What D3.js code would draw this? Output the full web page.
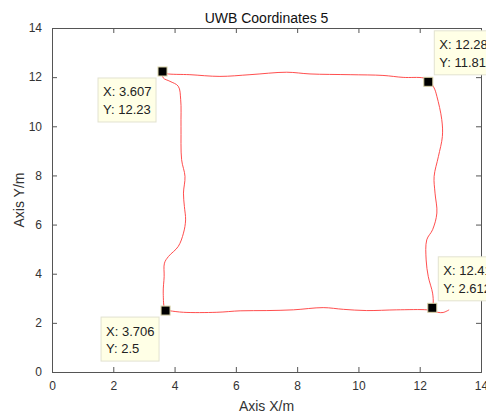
<!DOCTYPE html>
<html>
<head>
<meta charset="utf-8">
<script src="https://cdn.jsdelivr.net/npm/d3@7.9.0/dist/d3.min.js"></script>
<style>
  html, body { margin: 0; padding: 0; background: #fff; overflow: hidden; }
  svg { display: block; font-family: "Liberation Sans", Arial, Helvetica, sans-serif; }
</style>
</head>
<body>
<div id="chart"></div>
<script>
// walked trajectory (starts at the small hook bottom right)
const trackX = [12.96, 12.76, 12.58, 12.40, 12.23, 11.25, 10.27, 9.51, 8.85, 7.88, 7.01, 6.14, 5.38, 4.29, 3.85, 3.70,
  3.63, 3.66, 3.67, 3.80, 4.12, 4.29, 4.36, 4.32, 4.29, 4.34, 4.23, 4.21, 4.20, 4.12, 3.85, 3.63, 3.61,
  3.74, 4.50, 5.48, 6.46, 7.66, 8.42, 9.73, 10.80, 11.46, 12.11, 12.28,
  12.47, 12.56, 12.72, 12.74, 12.61, 12.47, 12.50, 12.56, 12.42, 12.23, 12.21, 12.28, 12.42, 12.44, 12.41];
const trackY = [2.53, 2.42, 2.43, 2.49, 2.53, 2.53, 2.50, 2.55, 2.62, 2.53, 2.50, 2.49, 2.43, 2.43, 2.49, 2.52,
  3.21, 3.88, 4.43, 4.70, 5.11, 5.65, 6.19, 6.74, 7.28, 7.96, 8.64, 10.00, 11.08, 11.63, 11.83, 11.97, 12.20,
  12.14, 12.10, 12.03, 12.10, 12.20, 12.13, 12.10, 12.07, 11.99, 11.97, 11.88,
  11.56, 11.22, 10.27, 9.59, 8.77, 7.96, 7.28, 6.47, 5.79, 5.38, 4.56, 3.88, 3.21, 2.80, 2.61];

// data tips
const tipX = [3.607, 12.28, 12.41, 3.706];
const tipY = [12.23, 11.81, 2.612, 2.5];
const tipSide = ['left', 'right', 'right', 'left'];

const xTicks = [0, 2, 4, 6, 8, 10, 12, 14];
const yTicks = [0, 2, 4, 6, 8, 10, 12, 14];

const width = 486, height = 414;
const margin = { top: 28, right: 5, bottom: 42, left: 52 };

const svg = d3.select('#chart').append('svg')
  .attr('width', width)
  .attr('height', height);

const x = d3.scaleLinear().domain([0, 14]).range([margin.left, width - margin.right]);
const y = d3.scaleLinear().domain([0, 14]).range([height - margin.bottom, margin.top]);

const axisColor = '#555';
const textColor = '#333';

// axes (ticks inside, box on)
const gx = svg.append('g')
  .attr('transform', `translate(0,${y(0)})`)
  .call(d3.axisBottom(x).tickValues(xTicks).tickSize(-5).tickPadding(9).tickFormat(d3.format('d')));
const gxTop = svg.append('g')
  .attr('transform', `translate(0,${y(14)})`)
  .call(d3.axisTop(x).tickValues(xTicks).tickSize(-5).tickFormat(''));
const gy = svg.append('g')
  .attr('transform', `translate(${x(0)},0)`)
  .call(d3.axisLeft(y).tickValues(yTicks).tickSize(-5).tickPadding(10).tickFormat(d3.format('d')));
const gyRight = svg.append('g')
  .attr('transform', `translate(${x(14)},0)`)
  .call(d3.axisRight(y).tickValues(yTicks).tickSize(-5).tickFormat(''));

[gx, gxTop, gy, gyRight].forEach(g => {
  g.select('.domain').attr('stroke', axisColor).attr('stroke-width', 1);
  g.selectAll('.tick line').attr('stroke', axisColor);
  g.selectAll('.tick text').attr('fill', textColor).style('font-size', '12px')
    .style('font-family', '"Liberation Sans", Arial, sans-serif');
});

// trajectory
const pts = trackX.map((d, i) => [d, trackY[i]]);
const line = d3.line()
  .x(d => x(d[0]))
  .y(d => y(d[1]))
  .curve(d3.curveCatmullRom.alpha(0.5));

svg.append('path')
  .datum(pts)
  .attr('fill', 'none')
  .attr('stroke', '#ff3a3a')
  .attr('stroke-width', 0.9)
  .attr('d', line);

// data tips
const tips = tipX.map((d, i) => ({ x: d, y: tipY[i], side: tipSide[i] }));
const boxW = 58, boxH = 44;

const tipG = svg.append('g').selectAll('g')
  .data(tips)
  .join('g')
  .attr('transform', d => {
    const px = x(d.x), py = y(d.y);
    return d.side === 'left'
      ? `translate(${px - 6.5 - boxW},${py + 6.5})`
      : `translate(${px + 6},${py - 7 - boxH})`;
  });

tipG.append('rect')
  .attr('width', boxW)
  .attr('height', boxH)
  .attr('fill', '#ffffe6')
  .attr('stroke', '#e2e2d0')
  .attr('stroke-width', 1);

tipG.append('text')
  .attr('x', 5)
  .attr('y', 18.5)
  .attr('fill', '#222')
  .style('font-size', '13px')
  .text(d => 'X: ' + d.x);

tipG.append('text')
  .attr('x', 5)
  .attr('y', 36)
  .attr('fill', '#222')
  .style('font-size', '13px')
  .text(d => 'Y: ' + d.y);

svg.append('g').selectAll('rect')
  .data(tips)
  .join('rect')
  .attr('x', d => x(d.x) - 4.5)
  .attr('y', d => y(d.y) - 4.5)
  .attr('width', 9)
  .attr('height', 9)
  .attr('fill', '#000')
  .attr('stroke', '#d8d2a8')
  .attr('stroke-width', 1);

// title and labels
svg.append('text')
  .attr('x', (x(0) + x(14)) / 2)
  .attr('y', 23)
  .attr('text-anchor', 'middle')
  .attr('fill', '#111')
  .style('font-size', '14px')
  .text('UWB Coordinates 5');

svg.append('text')
  .attr('x', (x(0) + x(14)) / 2)
  .attr('y', 411)
  .attr('text-anchor', 'middle')
  .attr('fill', textColor)
  .style('font-size', '14px')
  .text('Axis X/m');

svg.append('text')
  .attr('transform', `translate(24,${(y(0) + y(14)) / 2}) rotate(-90)`)
  .attr('text-anchor', 'middle')
  .attr('fill', textColor)
  .style('font-size', '14px')
  .text('Axis Y/m');
</script>
</body>
</html>
